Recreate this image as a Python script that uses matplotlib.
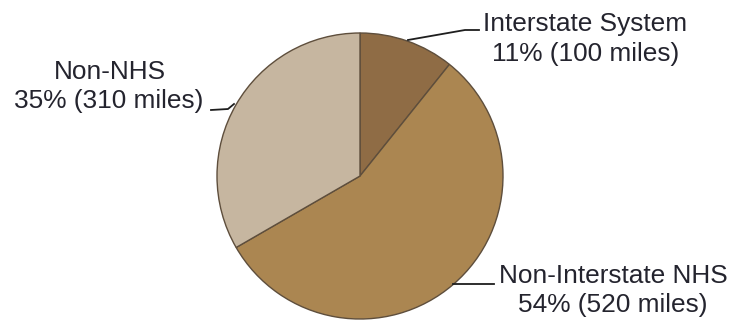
import matplotlib
matplotlib.use("Agg")
import matplotlib.pyplot as plt

# Data
categories = ["Interstate System", "Non-Interstate NHS", "Non-NHS"]
miles = [100, 520, 310]
percents = [11, 54, 35]
colors = ["#8f6c45", "#ab8651", "#c6b6a0"]

W, H = 734, 321
plt.rcParams["font.family"] = ["Liberation Sans", "DejaVu Sans"]

fig = plt.figure(figsize=(W / 100, H / 100), dpi=100)
ax = fig.add_axes([0, 0, 1, 1])


def py(y):
    # convert pixel row (from top) into data y (from bottom)
    return H - y


ax.pie(miles, colors=colors, startangle=90, counterclock=False,
       center=(360, py(176)), radius=143,
       wedgeprops=dict(edgecolor="#5e4e3c", linewidth=1.0))
ax.set_xlim(0, W)
ax.set_ylim(0, H)
ax.axis("off")

txt = dict(fontsize=18.9, color="#24242e", ha="center", va="baseline")
line = dict(color="#1e1e1e", linewidth=1.3)

# Interstate System
ax.plot([408, 465, 479], [py(40), py(30), py(30)], **line)
ax.text(585, py(31), categories[0], **txt)
ax.text(586, py(61), f"{percents[0]}% ({miles[0]} miles)", **txt)

# Non-NHS
ax.plot([211, 228, 234], [py(110), py(109), py(104)], **line)
ax.text(110, py(79), categories[2], **txt)
ax.text(109, py(108), f"{percents[2]}% ({miles[2]} miles)", **txt)

# Non-Interstate NHS
ax.plot([453, 494], [py(284), py(284)], **line)
ax.text(613, py(283), categories[1], **txt)
ax.text(613, py(312), f"{percents[1]}% ({miles[1]} miles)", **txt)

fig.savefig("out.png", dpi=100)
